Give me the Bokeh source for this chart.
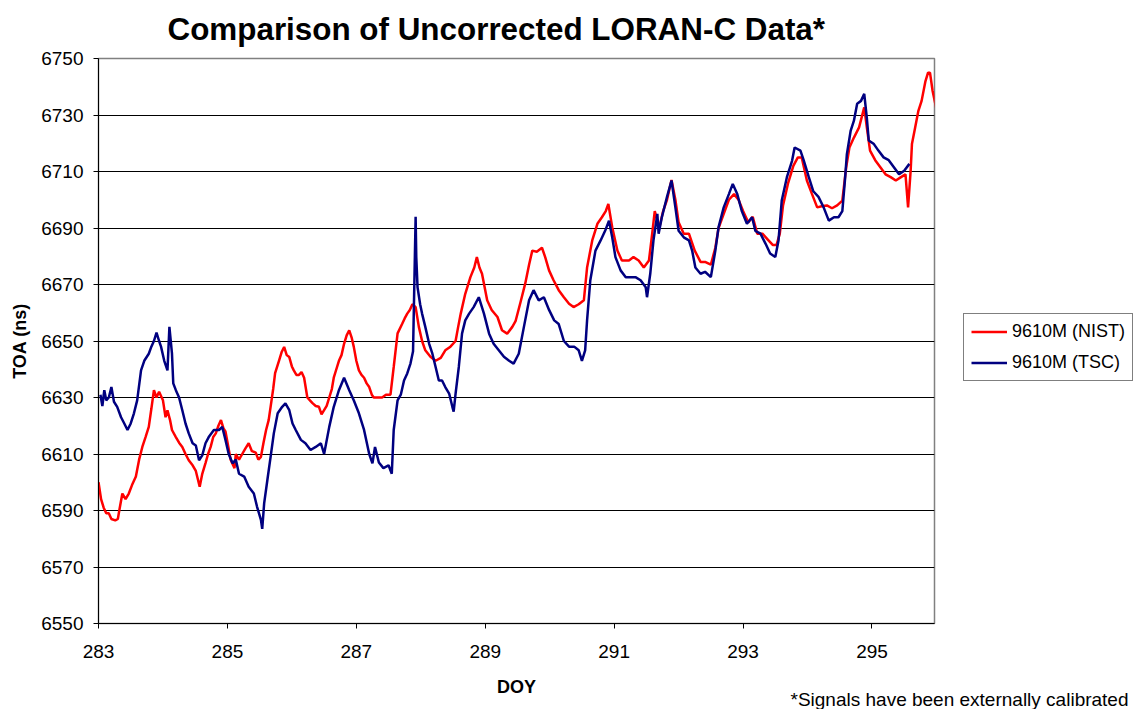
from bokeh.plotting import figure
from bokeh.models import Range1d, FixedTicker, Legend, LegendItem, Title
from bokeh.embed import file_html
from bokeh.resources import INLINE

# ---- data ----
nist_day = [283.00, 283.04, 283.08, 283.12, 283.16, 283.20, 283.26, 283.30, 283.33, 283.37,
            283.42, 283.47, 283.52, 283.58, 283.63, 283.68, 283.73, 283.78, 283.82, 283.86,
            283.90, 283.94, 284.00, 284.04, 284.07, 284.11, 284.14, 284.20, 284.25, 284.30,
            284.35, 284.40, 284.46, 284.51, 284.57, 284.61, 284.66, 284.70, 284.74, 284.78,
            284.82, 284.86, 284.90, 284.94, 284.97, 285.01, 285.05, 285.11, 285.13, 285.18,
            285.23, 285.28, 285.33, 285.38, 285.44, 285.48, 285.52, 285.56, 285.60, 285.64,
            285.67, 285.71, 285.74, 285.80, 285.84, 285.88, 285.92, 285.96, 286.00, 286.03,
            286.07, 286.11, 286.15, 286.19, 286.24, 286.28, 286.32, 286.37, 286.42, 286.46,
            286.50, 286.54, 286.58, 286.62, 286.65, 286.69, 286.73, 286.77, 286.81, 286.85,
            286.89, 286.93, 286.96, 287.00, 287.04, 287.08, 287.12, 287.16, 287.20, 287.24,
            287.27, 287.33, 287.40, 287.46, 287.53, 287.58, 287.64, 287.71, 287.75, 287.79,
            287.83, 287.87, 287.92, 287.97, 288.02, 288.07, 288.15, 288.23, 288.31, 288.38,
            288.46, 288.54, 288.58, 288.62, 288.69, 288.77, 288.83, 288.87, 288.91, 288.95,
            289.03, 289.10, 289.19, 289.26, 289.34, 289.42, 289.47, 289.55, 289.62, 289.68,
            289.73, 289.80, 289.88, 289.93, 289.99, 290.06, 290.14, 290.22, 290.30, 290.37,
            290.45, 290.53, 290.58, 290.66, 290.74, 290.81, 290.87, 290.91, 290.97, 291.05,
            291.12, 291.23, 291.30, 291.38, 291.46, 291.54, 291.59, 291.63, 291.70, 291.76,
            291.82, 291.89, 291.95, 292.00, 292.08, 292.16, 292.25, 292.34, 292.41, 292.50,
            292.57, 292.62, 292.70, 292.78, 292.86, 292.93, 293.00, 293.08, 293.15, 293.22,
            293.30, 293.38, 293.46, 293.52, 293.57, 293.62, 293.70, 293.78, 293.85, 293.91,
            293.99, 294.07, 294.15, 294.22, 294.30, 294.38, 294.46, 294.54, 294.60, 294.65,
            294.72, 294.80, 294.88, 294.92, 294.97, 295.05, 295.13, 295.21, 295.29, 295.37,
            295.45, 295.52, 295.56, 295.60, 295.62, 295.67, 295.72, 295.77, 295.83, 295.87,
            295.90, 295.94, 296.00]
nist_toa = [6600, 6594, 6591, 6589, 6589, 6587, 6586.5, 6587, 6591, 6596,
            6594, 6596, 6599, 6602, 6608, 6612.5, 6616, 6619.6, 6626, 6632.6,
            6630, 6632, 6629, 6623, 6625.5, 6622, 6618.5, 6616, 6614, 6612.5,
            6610, 6607.8, 6606, 6604, 6598.4, 6603, 6606.8, 6610, 6612.5, 6616,
            6617.3, 6620, 6622, 6619, 6618, 6613, 6608, 6605, 6610, 6608,
            6610, 6612, 6613.8, 6611, 6610.5, 6608, 6609, 6614, 6618.5, 6622,
            6626.7, 6633, 6638.6, 6643, 6646, 6647.9, 6645, 6644.3, 6641, 6639.6,
            6638, 6638, 6639, 6637, 6630, 6629, 6628, 6627, 6626.7, 6624,
            6625.5, 6627, 6630, 6633, 6637, 6640, 6643, 6645, 6649, 6652,
            6653.8, 6651, 6648, 6643, 6639.6, 6638, 6637, 6635, 6633.7, 6631,
            6630, 6630, 6630, 6631, 6631, 6640.8, 6652.7, 6656, 6658, 6659.7,
            6661, 6663, 6662, 6655, 6650, 6646.7, 6644.4, 6643, 6644, 6646.7,
            6648, 6650, 6655, 6659.7, 6666.7, 6672.6, 6676, 6679.7, 6676, 6673.8,
            6664.4, 6661, 6658.5, 6653.8, 6652.6, 6655, 6657, 6664, 6670.3, 6677,
            6682, 6681.6, 6683, 6679.7, 6675, 6671.5, 6668, 6665.5, 6663.2, 6662,
            6663, 6664.4, 6676, 6685.6, 6691.5, 6693.8, 6696, 6698.5, 6690.3, 6682,
            6678.5, 6678.5, 6679.7, 6678.5, 6676, 6678.5, 6688, 6696, 6690, 6696,
            6700, 6707, 6700, 6692, 6688, 6688, 6682, 6678, 6678, 6677,
            6683, 6690, 6695, 6700, 6702, 6700, 6696, 6692, 6694, 6688,
            6688, 6686, 6684, 6684, 6688, 6698, 6706, 6712, 6715, 6715,
            6706.8, 6702, 6697.3, 6697.7, 6698, 6697, 6698, 6699.7, 6711.5, 6718.5,
            6722, 6725.6, 6732.7, 6725.6, 6717.4, 6714, 6711.5, 6709, 6708, 6706.8,
            6708, 6709, 6697.3, 6710.3, 6719.7, 6725.6, 6731.5, 6735, 6742, 6745,
            6745, 6738.6, 6732]

tsc_day = [283.03, 283.06, 283.09, 283.12, 283.16, 283.20, 283.24, 283.29, 283.35, 283.40,
           283.45, 283.50, 283.55, 283.60, 283.66, 283.71, 283.78, 283.82, 283.86, 283.90,
           283.94, 283.97, 284.02, 284.07, 284.10, 284.14, 284.16, 284.20, 284.25, 284.30,
           284.35, 284.40, 284.46, 284.51, 284.56, 284.61, 284.66, 284.71, 284.79, 284.87,
           284.92, 284.97, 285.02, 285.08, 285.13, 285.18, 285.26, 285.33, 285.41, 285.46,
           285.52, 285.54, 285.57, 285.62, 285.67, 285.72, 285.78, 285.85, 285.90, 285.96,
           286.01, 286.06, 286.14, 286.21, 286.29, 286.37, 286.45, 286.50, 286.58, 286.65,
           286.73, 286.81, 286.89, 286.96, 287.04, 287.12, 287.20, 287.25, 287.29, 287.35,
           287.42, 287.50, 287.55, 287.58, 287.64, 287.69, 287.74, 287.79, 287.84, 287.88,
           287.92, 287.93, 287.95, 287.99, 288.02, 288.07, 288.13, 288.18, 288.23, 288.28,
           288.33, 288.38, 288.44, 288.49, 288.51, 288.54, 288.59, 288.64, 288.69, 288.75,
           288.82, 288.90, 288.98, 289.06, 289.13, 289.21, 289.29, 289.37, 289.44, 289.52,
           289.60, 289.68, 289.75, 289.83, 289.91, 289.99, 290.07, 290.14, 290.22, 290.30,
           290.38, 290.45, 290.50, 290.55, 290.58, 290.63, 290.71, 290.79, 290.86, 290.92,
           290.97, 291.02, 291.10, 291.18, 291.25, 291.33, 291.41, 291.49, 291.51, 291.56,
           291.61, 291.67, 291.69, 291.74, 291.82, 291.89, 291.95, 292.00, 292.08, 292.16,
           292.21, 292.26, 292.34, 292.41, 292.50, 292.57, 292.62, 292.70, 292.78, 292.84,
           292.91, 292.98, 293.06, 293.14, 293.19, 293.27, 293.35, 293.42, 293.50, 293.55,
           293.60, 293.68, 293.76, 293.80, 293.89, 293.94, 294.02, 294.09, 294.17, 294.25,
           294.33, 294.41, 294.48, 294.54, 294.58, 294.61, 294.67, 294.72, 294.77, 294.83,
           294.88, 294.92, 294.95, 295.03, 295.10, 295.18, 295.26, 295.34, 295.42, 295.50,
           295.58]
tsc_toa = [6631, 6627, 6632.6, 6629, 6630, 6633.7, 6628.5, 6626.7, 6623, 6620.8,
           6618.5, 6620.8, 6624.4, 6629, 6639.6, 6643, 6645.5, 6648, 6650, 6653,
           6650, 6648, 6643, 6639.6, 6655, 6645.5, 6635, 6632.6, 6630, 6625.5,
           6620.8, 6617.3, 6613.8, 6613, 6607.8, 6609.5, 6613.8, 6616, 6618.5, 6618.5,
           6619.6, 6615, 6610, 6606.7, 6608, 6603, 6602, 6598.4, 6596, 6591.3,
           6586.7, 6583.5, 6592.5, 6600.8, 6609, 6617.3, 6624.4, 6626.7, 6627.9, 6625.5,
           6620.8, 6618.5, 6615, 6613.8, 6611.4, 6612.5, 6613.8, 6610, 6619.6, 6626.7,
           6632.6, 6637, 6632.6, 6629, 6624.4, 6618.5, 6610, 6606.7, 6612.5, 6607,
           6605, 6606, 6603, 6618.5, 6629, 6631, 6636, 6638.5, 6642, 6646.4,
           6694, 6679.7, 6669, 6663, 6659.7, 6655, 6649, 6645.5, 6640.8, 6636,
           6636, 6633.7, 6631.4, 6626.7, 6625, 6631.4, 6640.8, 6652.6, 6657.3, 6659.7,
           6662, 6665.5, 6659.7, 6652.6, 6649, 6646.7, 6644.4, 6643, 6642, 6645.5,
           6655, 6664.4, 6668, 6664.4, 6665.5, 6661, 6657.3, 6656, 6650, 6648,
           6648, 6646.7, 6643, 6646.7, 6657.3, 6671.5, 6682, 6685.6, 6689, 6692.6,
           6686.7, 6679.7, 6675, 6672.6, 6672.6, 6672.6, 6671.5, 6669, 6665.5, 6673.8,
           6685.6, 6695, 6688, 6693.8, 6701, 6706.8, 6697.3, 6689, 6686.7, 6685.6,
           6682, 6676, 6673.8, 6674.5, 6672.6, 6682, 6690.3, 6697.3, 6702, 6705.6,
           6702, 6696, 6691.5, 6693.8, 6689, 6688, 6684.4, 6681, 6679.7, 6685.6,
           6699.7, 6708, 6713.8, 6718.5, 6717.4, 6714, 6708, 6703, 6701, 6697.3,
           6692.6, 6693.8, 6693.8, 6696, 6706.8, 6716, 6724.5, 6728, 6734, 6735,
           6737.5, 6729, 6721, 6719.7, 6717.4, 6715, 6714, 6711.5, 6709, 6710.3,
           6712.7]

y_ticks = [6550, 6570, 6590, 6610, 6630, 6650, 6670, 6690, 6710, 6730, 6750]
x_ticks = [283, 285, 287, 289, 291, 293, 295]

title_text = "Comparison of Uncorrected LORAN-C Data*"
footnote_text = "*Signals have been externally calibrated"
series_names = ["9610M (NIST)", "9610M (TSC)"]
series_colors = ["#FF0000", "#000080"]

FONT = "Liberation Sans"

p = figure(frame_width=836, frame_height=565, output_backend="svg", toolbar_location=None,
           x_range=Range1d(283, 295.97), y_range=Range1d(6550, 6750),
           min_border_left=98, min_border_right=200, min_border_top=58, min_border_bottom=86)

p.outline_line_color = "#808080"
p.outline_line_width = 1.5
p.xgrid.visible = False
p.ygrid.grid_line_color = "#000000"
p.ygrid.grid_line_width = 1

for ax in (p.xaxis[0], p.yaxis[0]):
    ax.axis_line_color = "#000000"
    ax.major_tick_line_color = "#000000"
    ax.major_tick_in = 0
    ax.major_tick_out = 5
    ax.minor_tick_line_color = None
    ax.major_label_text_font = FONT
    ax.major_label_text_font_size = "19px"
    ax.major_label_text_color = "#000000"
    ax.axis_label_text_font = FONT
    ax.axis_label_text_font_size = "18px"
    ax.axis_label_text_font_style = "bold"
    ax.axis_label_text_color = "#000000"

p.xaxis.ticker = FixedTicker(ticks=x_ticks)
p.yaxis.ticker = FixedTicker(ticks=y_ticks)
p.xaxis.axis_label = "DOY"
p.yaxis.axis_label = "TOA (ns)"
p.xaxis.major_label_standoff = 16
p.yaxis.major_label_standoff = 10
p.xaxis.axis_label_standoff = 16
p.yaxis.axis_label_standoff = 8

r_nist = p.line(nist_day, nist_toa, line_color=series_colors[0], line_width=2.5)
r_tsc = p.line(tsc_day, tsc_toa, line_color=series_colors[1], line_width=2.5)

legend = Legend(items=[LegendItem(label=series_names[0], renderers=[r_nist]),
                       LegendItem(label=series_names[1], renderers=[r_tsc])],
                location=(29, 242), margin=0, padding=7, spacing=10,
                glyph_width=36, glyph_height=21, label_standoff=5,
                label_text_font=FONT, label_text_font_size="18px",
                label_text_color="#000000",
                border_line_color="#000000", border_line_width=1,
                background_fill_color="#FFFFFF", background_fill_alpha=1.0)
p.add_layout(legend, "right")

p.add_layout(Title(text=title_text, align="left", offset=69, vertical_align="top",
                   standoff=20, text_font=FONT, text_font_size="31.4px",
                   text_font_style="bold", text_color="#000000"), "above")
p.add_layout(Title(text=footnote_text, align="right", offset=-194, vertical_align="middle",
                   standoff=-27, text_font=FONT, text_font_size="19px",
                   text_font_style="normal", text_color="#000000"), "below")

open("out.html", "w").write(file_html(p, INLINE))
